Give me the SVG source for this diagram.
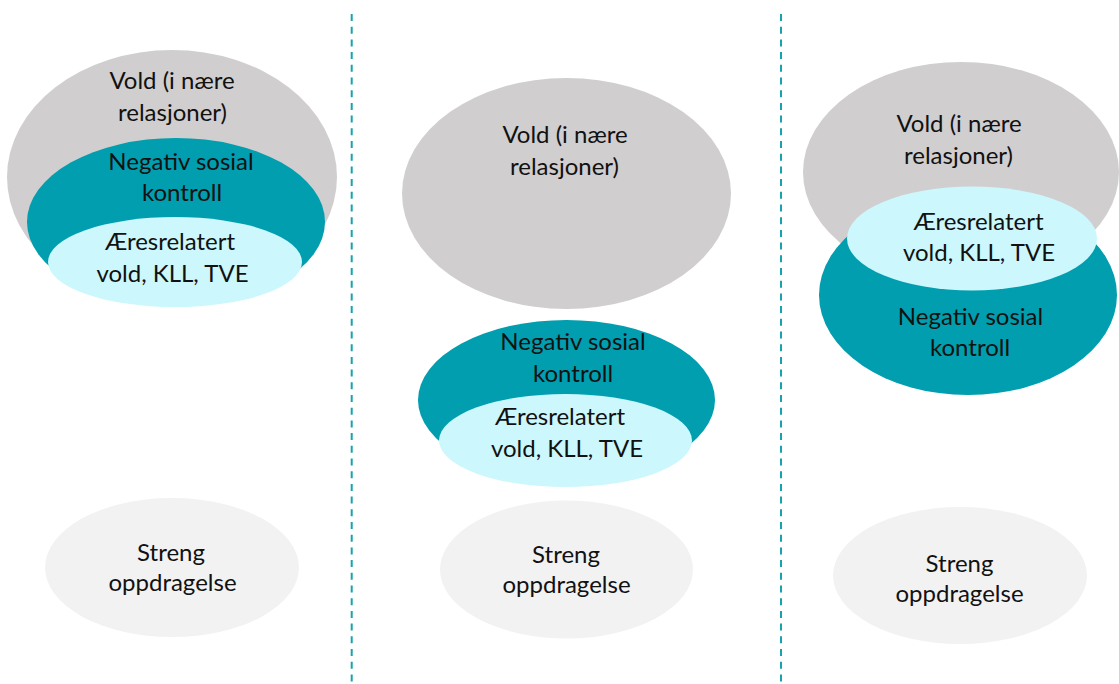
<svg xmlns="http://www.w3.org/2000/svg" width="1119" height="684" viewBox="0 0 1119 684">
  <style>
    .vold { fill: #D0CECE; }
    .nsk { fill: #009EAE; }
    .aer { fill: #CCF7FC; }
    .streng { fill: #F2F2F2; }
    .sep { stroke: #16A3AE; stroke-width: 2; stroke-dasharray: 7 5.7; fill: none; }
    text { font-family: Lato, "Open Sans", "Liberation Sans", sans-serif; font-size: 24px; fill: #111111; text-anchor: middle; }
  </style>
  <rect width="1119" height="684" fill="#FFFFFF"/>

  <g id="connectors">
    <line class="sep" x1="351.7" y1="14" x2="351.7" y2="684"/>
    <line class="sep" x1="781" y1="14" x2="781" y2="684"/>
  </g>

  <!-- Panel 1 -->
  <g id="p1-vold">
    <ellipse class="vold" cx="172" cy="177" rx="165" ry="127"/>
    <text x="172" y="89">Vold (i nære</text>
    <text x="172.5" y="121">relasjoner)</text>
  </g>
  <g id="p1-nsk">
    <ellipse class="nsk" cx="176" cy="222" rx="149" ry="84"/>
    <text x="181" y="170">Negativ sosial</text>
    <text x="182" y="201">kontroll</text>
  </g>
  <g id="p1-aer">
    <ellipse class="aer" cx="175" cy="262" rx="127" ry="45"/>
    <text x="170" y="250">Æresrelatert</text>
    <text x="172.5" y="282">vold, KLL, TVE</text>
  </g>
  <g id="p1-streng">
    <ellipse class="streng" cx="172" cy="567.5" rx="127" ry="69.5"/>
    <text x="171" y="561">Streng</text>
    <text x="172.5" y="591">oppdragelse</text>
  </g>

  <!-- Panel 2 -->
  <g id="p2-vold">
    <ellipse class="vold" cx="566.5" cy="193.5" rx="164.5" ry="115.5"/>
    <text x="565" y="143">Vold (i nære</text>
    <text x="564.5" y="175">relasjoner)</text>
  </g>
  <g id="p2-nsk">
    <ellipse class="nsk" cx="566.5" cy="400" rx="148.5" ry="80"/>
    <text x="573" y="350">Negativ sosial</text>
    <text x="573" y="382">kontroll</text>
  </g>
  <g id="p2-aer">
    <ellipse class="aer" cx="565.5" cy="440.5" rx="126.5" ry="46.5"/>
    <text x="560" y="425">Æresrelatert</text>
    <text x="567" y="457">vold, KLL, TVE</text>
  </g>
  <g id="p2-streng">
    <ellipse class="streng" cx="566.5" cy="569.5" rx="126.5" ry="69"/>
    <text x="566" y="563">Streng</text>
    <text x="566.5" y="593">oppdragelse</text>
  </g>

  <!-- Panel 3 -->
  <g id="p3-vold">
    <ellipse class="vold" cx="961" cy="172" rx="158" ry="110"/>
    <text x="959" y="132">Vold (i nære</text>
    <text x="958.5" y="164">relasjoner)</text>
  </g>
  <g id="p3-nsk">
    <ellipse class="nsk" cx="968" cy="295" rx="149" ry="100"/>
    <text x="970.5" y="325">Negativ sosial</text>
    <text x="970" y="356">kontroll</text>
  </g>
  <g id="p3-aer">
    <ellipse class="aer" cx="972" cy="238.5" rx="125" ry="52"/>
    <text x="978.5" y="230">Æresrelatert</text>
    <text x="979" y="261">vold, KLL, TVE</text>
  </g>
  <g id="p3-streng">
    <ellipse class="streng" cx="960" cy="575.5" rx="127" ry="68.5"/>
    <text x="959.5" y="572">Streng</text>
    <text x="959.5" y="602">oppdragelse</text>
  </g>
</svg>
